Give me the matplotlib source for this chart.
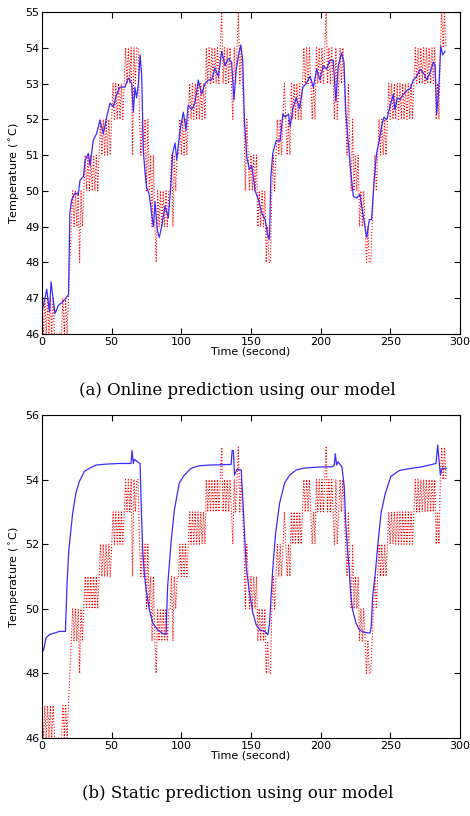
import matplotlib
matplotlib.use('Agg')
import numpy as np
import matplotlib.pyplot as plt

# Measured temperature, one sample per second (quantised to whole degrees)
measured = [
    47, 46, 47, 46, 47, 46, 47, 46, 47, 46,
    46, 46, 46, 46, 46, 47, 46, 47, 46, 47,
    48, 49, 50, 49, 50, 49, 50, 48, 50, 49,
    50, 51, 50, 51, 50, 51, 50, 51, 50, 51,
    50, 51, 52, 51, 52, 51, 52, 51, 52, 51,
    52, 53, 52, 53, 52, 53, 52, 53, 52, 53,
    54, 53, 54, 53, 54, 51, 54, 53, 54, 54,
    52, 51, 52, 51, 52, 50, 52, 50, 51, 49,
    51, 49, 48, 50, 49, 50, 49, 50, 49, 50,
    49, 50, 50, 51, 49, 51, 50, 51, 51, 52,
    51, 52, 51, 52, 51, 52, 53, 52, 53, 52,
    53, 52, 53, 52, 53, 52, 53, 52, 54, 53,
    54, 53, 54, 53, 54, 53, 54, 53, 54, 55,
    53, 54, 53, 54, 53, 54, 53, 52, 54, 53,
    54, 55, 53, 54, 53, 52, 50, 52, 51, 50,
    51, 50, 51, 50, 51, 49, 50, 49, 50, 49,
    50, 48, 49, 48, 48, 50, 51, 50, 51, 52,
    51, 52, 51, 52, 53, 52, 51, 52, 51, 53,
    52, 53, 52, 53, 52, 53, 52, 53, 54, 53,
    54, 53, 54, 53, 52, 53, 52, 54, 53, 54,
    53, 54, 53, 54, 55, 53, 54, 53, 54, 53,
    52, 54, 52, 53, 54, 53, 54, 53, 52, 51,
    53, 51, 50, 52, 50, 51, 50, 51, 49, 50,
    49, 50, 49, 48, 49, 48, 48, 49, 50, 51,
    50, 51, 52, 51, 52, 51, 52, 51, 52, 53,
    52, 53, 52, 53, 52, 53, 52, 53, 52, 53,
    52, 53, 52, 53, 52, 53, 52, 53, 54, 53,
    54, 53, 54, 53, 54, 53, 54, 53, 54, 53,
    54, 53, 54, 52, 53, 52, 54, 55, 54, 55,
    54,
]
measured_t = np.arange(len(measured))

# Online prediction (panel a)
online_t = [0.3, 3.4, 5.3, 6.5, 8.2, 9.3, 11.7, 14, 16.5, 19, 20, 21.3, 23.7, 26,
            27.3, 29.7, 31, 33.3, 34.5, 36.8, 39.2, 41.6, 44, 46.4, 48.8, 51.2,
            53.6, 56, 59.6, 61.9, 64.4, 65.6, 66.7, 67.9, 69.2, 70.4, 71.6, 72.7,
            74, 75.1, 77, 78.7, 80, 81.1, 82.8, 84.2, 85.9, 88.3, 90.7, 92.4,
            93.8, 95.5, 96.7, 99.1, 101.5, 103.4, 105, 107.4, 109.8, 112.2,
            114.6, 117, 119.4, 121.8, 124.2, 126.6, 129, 131.4, 133.8, 136.1,
            137.8, 139.3, 141, 142.7, 144.1, 145.3, 147, 148.9, 150.6, 153,
            155.4, 157.8, 160.2, 161.8, 163.3, 164.3, 165.7, 168.1, 171, 172.9,
            174.6, 177, 178.2, 180.1, 182.5, 184.9, 187.3, 189.7, 192.4, 194.8,
            197.2, 199.6, 201.9, 204.3, 206.7, 209.1, 211, 212.7, 215.1, 216.8,
            218.2, 219.9, 221.5, 223.5, 225.9, 228.3, 230.2, 231.9, 233.1, 235,
            236.6, 238.3, 240.2, 242.1, 243.8, 245.5, 247.4, 249.8, 252.2,
            253.4, 255.1, 257, 259.4, 261.8, 264.2, 266.6, 269, 271.4, 273.8,
            276.2, 278.6, 281, 282.2, 283.4, 284.8, 286.3, 287.7, 289.4]
online_temp = [46.67, 47.25, 46.62, 47.46, 46.9, 46.57, 46.8, 46.87, 46.97, 47.1,
               49.38, 49.75, 49.94, 49.9, 50.3, 50.4, 50.85, 51.05, 50.7, 51.42,
               51.6, 51.98, 51.6, 52.06, 52.45, 52.35, 52.7, 52.9, 52.9, 53.15,
               53.0, 52.2, 52.9, 52.6, 53.0, 53.8, 53.2, 51.14, 50.5, 50.1, 49.9,
               49.35, 49.0, 49.7, 48.9, 48.7, 49.0, 49.57, 49.25, 50.1, 51.05,
               51.34, 50.87, 51.7, 52.2, 51.7, 52.4, 52.27, 52.45, 53.1, 52.7,
               53.0, 53.1, 53.1, 53.43, 53.2, 53.9, 53.5, 53.7, 53.6, 52.54,
               53.35, 53.78, 54.08, 53.65, 51.98, 50.95, 50.6, 50.7, 50.0, 49.75,
               49.38, 49.2, 48.8, 48.65, 50.4, 51.05, 51.4, 51.4, 52.15, 52.06,
               52.15, 51.8, 52.3, 52.6, 52.3, 52.9, 53.0, 53.2, 52.9, 53.4, 53.1,
               53.5, 53.4, 53.65, 53.65, 52.5, 53.5, 53.85, 53.6, 52.15, 51.35,
               50.6, 49.85, 49.8, 49.9, 49.4, 49.0, 48.7, 49.2, 49.2, 50.2, 51.05,
               51.4, 51.8, 52.06, 51.98, 52.35, 52.7, 52.27, 52.6, 52.55, 52.7,
               52.8, 52.85, 53.1, 53.2, 53.4, 53.3, 53.1, 53.3, 53.6, 53.5, 52.15,
               52.8, 54.05, 53.8, 53.9]

# Static prediction (panel b)
static_t = [0, 1, 2.9, 5.3, 8.9, 12.5, 16, 16.8, 18, 19.2, 20.4, 22, 24.4, 26.8,
            30.4, 34, 38.8, 46, 55.5, 63.9, 64.6, 65.6, 66.3, 68.7, 70.4, 71.1,
            72.3, 73.5, 74.7, 77.1, 79.5, 83.1, 86, 89, 90.2, 92.6, 95, 98.6,
            102.2, 107, 113, 120.2, 135.8, 136.5, 137.4, 138.2, 139.9, 143,
            144.2, 145.4, 146.6, 149, 151.4, 153.8, 156.2, 159.8, 162.2, 163.4,
            164.6, 165.8, 167.7, 170.6, 174.2, 177.8, 182.6, 187.4, 191.9,
            199.1, 208.7, 209.8, 210.6, 211.5, 212.5, 215.3, 217, 218.2, 219.4,
            220.6, 221.8, 223, 225.4, 227.8, 231.4, 235.5, 236.4, 237.4, 239.3,
            241, 243.4, 246.5, 250.5, 256.5, 263.7, 273.3, 282.9, 284.1, 285.3,
            286, 287.2, 290.1]
static_temp = [48.85, 48.7, 49.1, 49.2, 49.25, 49.3, 49.3, 49.3, 50.8, 51.8, 52.3,
               52.96, 53.6, 53.94, 54.25, 54.35, 54.45, 54.48, 54.5, 54.5, 54.9,
               54.5, 54.63, 54.55, 54.5, 53.37, 51.8, 51.1, 50.6, 49.97, 49.56,
               49.35, 49.25, 49.2, 50.7, 52.03, 53.06, 53.9, 54.14, 54.35, 54.43,
               54.45, 54.47, 54.9, 54.9, 54.14, 54.32, 54.3, 53.37, 52.34, 51.3,
               50.48, 49.87, 49.5, 49.35, 49.3, 49.2, 49.56, 50.48, 51.3, 52.34,
               53.27, 53.9, 54.14, 54.3, 54.35, 54.37, 54.39, 54.4, 54.45, 54.8,
               54.45, 54.55, 54.4, 53.78, 52.55, 51.8, 51.2, 50.38, 49.97, 49.56,
               49.35, 49.27, 49.25, 49.45, 50.38, 51.1, 51.93, 52.96, 53.58, 54.1,
               54.28, 54.34, 54.4, 54.5, 55.07, 54.5, 54.14, 54.35, 54.35]

xticks = [0, 50, 100, 150, 200, 250, 300]
yticks_a = list(range(46, 56))
yticks_b = [46, 48, 50, 52, 54, 56]

fig = plt.figure(figsize=(4.70, 8.16), dpi=100)
ax_a = fig.add_axes([0.0894, 0.5907, 0.889, 0.3946])
ax_b = fig.add_axes([0.0894, 0.0956, 0.889, 0.3958])

panels = [
    (ax_a, online_t, online_temp, (46, 55), yticks_a),
    (ax_b, static_t, static_temp, (46, 56), yticks_b),
]
for ax, pt, pv, ylim, yt in panels:
    ax.plot(measured_t, measured, color='red', linestyle=':', linewidth=0.8)
    ax.plot(pt, pv, color='#3a2cff', linewidth=0.9)
    ax.set_xlim(0, 300)
    ax.set_ylim(*ylim)
    ax.set_xticks(xticks)
    ax.set_yticks(yt)
    ax.tick_params(direction='in', top=True, right=True, labelsize=8, length=4, pad=2)
    ax.set_xlabel('Time (second)', fontsize=8, labelpad=0)
    ax.set_ylabel(r'Temperature ($^\circ$C)', fontsize=8, labelpad=2)

fig.text(0.505, 0.522, '(a) Online prediction using our model', ha='center',
         va='center', fontsize=12, family='DejaVu Serif')
fig.text(0.505, 0.027, '(b) Static prediction using our model', ha='center',
         va='center', fontsize=12, family='DejaVu Serif')

fig.savefig('out.png', dpi=100)
